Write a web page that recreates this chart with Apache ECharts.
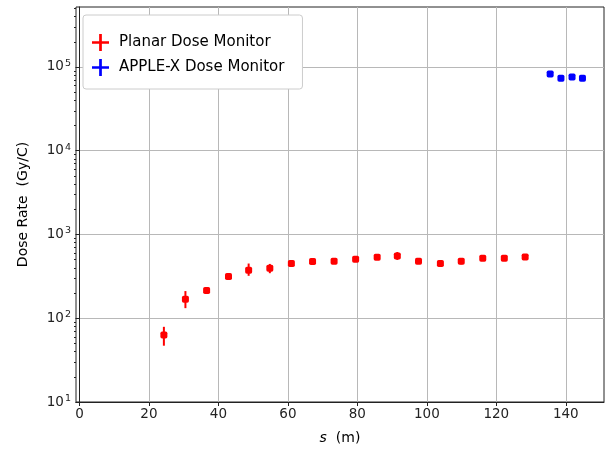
<!DOCTYPE html>
<html>
<head>
<meta charset="utf-8">
<script src="https://cdn.jsdelivr.net/npm/echarts@6/dist/echarts.min.js"></script>
<style>
  html, body { margin: 0; padding: 0; background: #fff; }
  #chart { width: 605px; height: 450px; }
</style>
</head>
<body>
<div id="chart"></div>
<script>
// positions s (m) and dose rates (Gy/C)
var planarS = [24.3, 30.5, 36.6, 42.9, 48.7, 54.8, 61.0, 67.1, 73.3, 79.5, 85.7, 91.5, 97.6, 103.9, 109.9, 116.1, 122.3, 128.3]
var planarDose = [63, 169, 215, 315, 375, 396, 450, 475, 480, 506, 534, 554, 480, 450, 480, 520, 520, 540]
var planarLow = [47, 132, 200, 295, 321, 345, 425, 440, 445, 478, 505, 497, 450, 430, 440, 490, 495, 510]
var planarHigh = [79, 211, 232, 335, 450, 445, 475, 510, 515, 535, 565, 618, 512, 472, 520, 555, 548, 570]

var appleS = [135.5, 138.6, 141.8, 144.8]
var appleDose = [82600, 73400, 76000, 73400]
var appleLow = [79000, 70000, 72500, 70000]
var appleHigh = [86500, 77000, 79500, 77000]

var xTicks = [0, 20, 40, 60, 80, 100, 120, 140]
var yMajorTicks = [10, 100, 1000, 10000, 100000]
var yMinorTicks = []
yMajorTicks.forEach(function(d) {
    for (var k = 2; k <= 9; k++) yMinorTicks.push(d * k)
})

var seriesNames = ['Planar Dose Monitor', 'APPLE-X Dose Monitor']
var seriesColors = ['#ff0000', '#0000ff']

var chart = echarts.init(document.getElementById('chart'), null, { renderer: 'canvas' })

var plusIcon = 'path://M8.4,0 L11.6,0 L11.6,8.4 L20,8.4 L20,11.6 L11.6,11.6 L11.6,20 L8.4,20 L8.4,11.6 L0,11.6 L0,8.4 L8.4,8.4 Z'

function toPoints(xs, ys) {
    return xs.map(function(x, i) { return [x, ys[i]] })
}

function toBars(xs, lo, hi) {
    return xs.map(function(x, i) { return [x, lo[i], hi[i]] })
}

function errorBar(color) {
    return function(params, api) {
        var p1 = api.coord([api.value(0), api.value(1)])
        var p2 = api.coord([api.value(0), api.value(2)])
        return {
            type: 'line',
            shape: { x1: p1[0], y1: p1[1], x2: p2[0], y2: p2[1] },
            style: { stroke: color, lineWidth: 2 }
        }
    }
}

function supLabel(v) {
    var e = Math.round(Math.log10(v))
    if (Math.abs(Math.pow(10, e) - v) > 1e-6 * v) return ''
    return '{b|10}{s|' + e + '}'
}

var font = 'DejaVu Sans'

var option = {
    animation: false,
    backgroundColor: '#fff',
    grid: {
        left: 76, right: 1, top: 7, bottom: 46,
        show: true, borderColor: '#222', borderWidth: 1
    },
    legend: {
        orient: 'vertical',
        left: 83, top: 15,
        padding: [19, 18, 13, 9],
        itemWidth: 17, itemHeight: 17,
        itemGap: 8,
        borderColor: '#cccccc', borderWidth: 1, borderRadius: 3,
        backgroundColor: '#fff',
        data: seriesNames.map(function(n, i) {
            return { name: n, icon: plusIcon, itemStyle: { color: seriesColors[i] } }
        }),
        textStyle: { fontFamily: font, fontSize: 15, color: '#000', padding: [0, 0, 0, 5] }
    },
    xAxis: {
        type: 'value',
        min: -1, max: 151,
        name: '{i|s}  (m)',
        nameLocation: 'middle',
        nameGap: 29,
        nameTextStyle: {
            fontFamily: font, fontSize: 14, color: '#000',
            rich: { i: { fontFamily: font, fontSize: 14, fontStyle: 'italic', color: '#000' } }
        },
        axisLine: { lineStyle: { color: '#222', width: 1 } },
        axisTick: { customValues: xTicks, length: 4, lineStyle: { color: '#222' } },
        axisLabel: { customValues: xTicks, fontFamily: font, fontSize: 13.5, color: '#222', margin: 5 },
        splitLine: { show: true, lineStyle: { color: '#b8b8b8', width: 1 } }
    },
    yAxis: [{
        type: 'log',
        logBase: 10,
        min: 10, max: 520000,
        name: 'Dose Rate  (Gy/C)',
        nameLocation: 'middle',
        nameGap: 46,
        nameTextStyle: { fontFamily: font, fontSize: 14, color: '#000' },
        axisLine: { show: true, lineStyle: { color: '#222', width: 1 } },
        axisTick: { customValues: yMajorTicks, length: 4, lineStyle: { color: '#222' } },
        axisLabel: {
            customValues: yMajorTicks,
            margin: 5,
            formatter: supLabel,
            rich: {
                b: { fontFamily: font, fontSize: 13.5, color: '#222' },
                s: { fontFamily: font, fontSize: 9.5, color: '#222', verticalAlign: 'top', padding: [0, 0, 7, 1] }
            }
        },
        splitLine: { show: true, lineStyle: { color: '#b8b8b8', width: 1 } }
    }, {
        type: 'log',
        logBase: 10,
        min: 10, max: 520000,
        position: 'left',
        axisLine: { show: false },
        axisTick: { customValues: yMinorTicks, length: 2, lineStyle: { color: '#222' } },
        axisLabel: { show: false },
        splitLine: { show: false }
    }],
    series: [{
        name: 'planar-err',
        type: 'custom',
        renderItem: errorBar(seriesColors[0]),
        data: toBars(planarS, planarLow, planarHigh),
        encode: { x: 0, y: [1, 2] },
        z: 2
    }, {
        name: 'apple-err',
        type: 'custom',
        renderItem: errorBar(seriesColors[1]),
        data: toBars(appleS, appleLow, appleHigh),
        encode: { x: 0, y: [1, 2] },
        z: 2
    }, {
        name: seriesNames[0],
        type: 'scatter',
        symbol: 'roundRect',
        symbolSize: 7,
        itemStyle: { color: seriesColors[0], opacity: 1 },
        data: toPoints(planarS, planarDose),
        z: 3
    }, {
        name: seriesNames[1],
        type: 'scatter',
        symbol: 'roundRect',
        symbolSize: 7,
        itemStyle: { color: seriesColors[1], opacity: 1 },
        data: toPoints(appleS, appleDose),
        z: 3
    }]
}

chart.setOption(option)
</script>
</body>
</html>
